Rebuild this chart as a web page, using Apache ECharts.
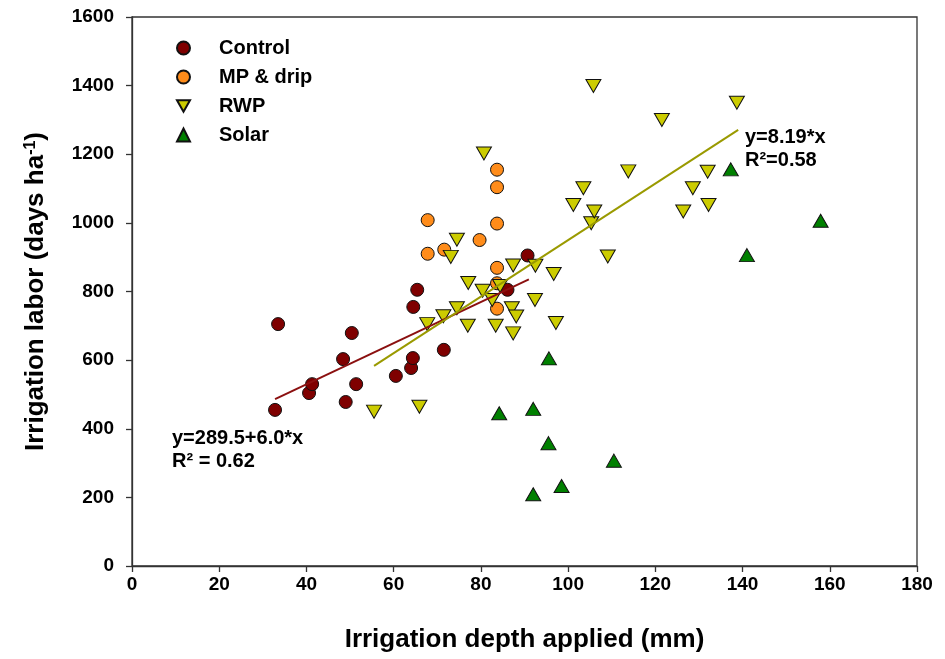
<!DOCTYPE html>
<html>
<head>
<meta charset="utf-8">
<script src="https://cdn.jsdelivr.net/npm/echarts@6/dist/echarts.min.js"></script>
<style>html,body{margin:0;padding:0;background:#fff}#c{width:945px;height:659px}</style>
</head>
<body>
<div id="c"></div>
<script>
// ---- data ----
const controlX = [33.5, 32.8, 40.6, 41.3, 48.4, 49.0, 50.4, 51.4, 60.5, 64.0, 64.4, 64.5, 65.4, 71.5, 86.1, 90.7];
const controlY = [705, 455, 504, 530, 603, 478, 679, 530, 554, 577, 606, 755, 805, 630, 805, 905];

const mpX = [67.8, 67.8, 71.6, 79.7, 83.7, 83.7, 83.7, 83.7, 83.7, 83.7];
const mpY = [1008, 910, 922, 950, 1155, 1104, 998, 869, 824, 750];

const rwpX = [55.5, 65.9, 67.7, 71.4, 73.1, 74.5, 74.5, 77.1, 77.0, 80.7, 80.4, 82.6, 83.4, 84.4, 87.4, 87.1, 88.1, 87.4,
              92.5, 92.4, 96.7, 97.2, 101.2, 103.5, 105.3, 106.0, 105.8, 109.1, 113.8, 121.5, 126.4, 128.6, 132.0, 132.2, 138.7];
const rwpY = [450, 464, 705, 728, 901, 951, 751, 825, 700, 1202, 802, 775, 700, 816, 876, 751, 727, 678,
              875, 775, 851, 708, 1052, 1101, 999, 1033, 1399, 902, 1150, 1300, 1033, 1101, 1149, 1052, 1350];

const solarX = [84.2, 92.0, 92.0, 95.6, 95.5, 98.5, 110.5, 137.3, 141.0, 157.9];
const solarY = [445, 458, 209, 605, 358, 233, 307, 1156, 906, 1006];

// regression lines (as drawn)
const controlFitX = [32.8, 91.0];
const controlFitIntercept = 289.5, controlFitSlope = 6.0;
const rwpFitX = [55.5, 139.0];
const rwpFitY = [583, 1271];

const xTicks = [0, 20, 40, 60, 80, 100, 120, 140, 160, 180];
const yTicks = [0, 200, 400, 600, 800, 1000, 1200, 1400, 1600];

const seriesNames = ['Control', 'MP & drip', 'RWP', 'Solar'];
const eqControl = ['y=289.5+6.0*x', 'R² = 0.62'];
const eqRwp = ['y=8.19*x', 'R²=0.58'];

// ---- build ----
const zip = (xs, ys) => xs.map((x, i) => [x, ys[i]]);
const downTri = 'path://M0,0L2,0L1,1.732Z';
const FONT = '"Liberation Sans", Arial, sans-serif';

const chart = echarts.init(document.getElementById('c'), null, {renderer: 'canvas'});
const mk = c => ({color: c, borderColor: '#111', borderWidth: 1, opacity: 1});

chart.setOption({
  animation: false,
  backgroundColor: '#fff',
  textStyle: {fontFamily: FONT},
  grid: {left: 132, right: 28, top: 17, bottom: 93, show: true, borderColor: '#333', borderWidth: 1.3},
  xAxis: {
    type: 'value', min: xTicks[0], max: xTicks[xTicks.length - 1], interval: 20,
    axisLine: {show: true, lineStyle: {color: '#333', width: 1.3}},
    axisTick: {show: true, inside: false, length: 6, lineStyle: {color: '#333', width: 1.3}},
    splitLine: {show: false},
    axisLabel: {color: '#000', fontWeight: 'bold', fontSize: 19, margin: 9, fontFamily: FONT, formatter: v => String(v)},
    name: 'Irrigation depth applied (mm)', nameLocation: 'middle', nameGap: 61,
    nameTextStyle: {color: '#000', fontWeight: 'bold', fontSize: 26, fontFamily: FONT}
  },
  yAxis: {
    type: 'value', min: yTicks[0], max: yTicks[yTicks.length - 1], interval: 200,
    axisLine: {show: true, lineStyle: {color: '#333', width: 1.3}},
    axisTick: {show: true, inside: false, length: 6, lineStyle: {color: '#333', width: 1.3}},
    splitLine: {show: false},
    axisLabel: {color: '#000', fontWeight: 'bold', fontSize: 19, margin: 18, fontFamily: FONT, formatter: v => String(v)},
    name: 'Irrigation labor (days ha{sup|-1})', nameLocation: 'middle', nameGap: 83, nameRotate: 90,
    nameTextStyle: {color: '#000', fontWeight: 'bold', fontSize: 26, fontFamily: FONT,
      rich: {sup: {fontSize: 16, fontWeight: 'bold', verticalAlign: 'top', padding: [0, 0, 10, 0], color: '#000', fontFamily: FONT}}}
  },
  legend: {
    orient: 'vertical', left: 171, top: 33, itemGap: 9, itemWidth: 13, itemHeight: 13,
    data: seriesNames,
    textStyle: {color: '#000', fontWeight: 'bold', fontSize: 20, fontFamily: FONT, padding: [0, 0, 0, 24]}
  },
  series: [
    {name: seriesNames[0], type: 'scatter', symbol: 'circle', symbolSize: 13, z: 2,
     itemStyle: mk('#7f0000'), data: zip(controlX, controlY)},
    {name: seriesNames[1], type: 'scatter', symbol: 'circle', symbolSize: 13, z: 3,
     itemStyle: mk('#ff8c1a'), data: zip(mpX, mpY)},
    {name: seriesNames[2], type: 'scatter', symbol: downTri, symbolSize: [15, 13], z: 4,
     itemStyle: mk('#cccc00'), data: zip(rwpX, rwpY)},
    {name: seriesNames[3], type: 'scatter', symbol: 'triangle', symbolSize: [15, 13], z: 5,
     itemStyle: mk('#008000'), data: zip(solarX, solarY)},
    {name: 'controlFit', type: 'line', showSymbol: false, symbol: 'none', z: 6, silent: true,
     lineStyle: {color: '#8b1010', width: 2},
     data: controlFitX.map(x => [x, controlFitIntercept + controlFitSlope * x])},
    {name: 'rwpFit', type: 'line', showSymbol: false, symbol: 'none', z: 6, silent: true,
     lineStyle: {color: '#9a9a00', width: 2},
     data: zip(rwpFitX, rwpFitY)}
  ],
  graphic: [
    {type: 'text', style: {x: 172, y: 438, text: eqControl[0], fill: '#000', font: 'bold 20px ' + FONT, verticalAlign: 'middle'}},
    {type: 'text', style: {x: 172, y: 461, text: eqControl[1], fill: '#000', font: 'bold 20px ' + FONT, verticalAlign: 'middle'}},
    {type: 'text', style: {x: 745, y: 137, text: eqRwp[0], fill: '#000', font: 'bold 20px ' + FONT, verticalAlign: 'middle'}},
    {type: 'text', style: {x: 745, y: 160, text: eqRwp[1], fill: '#000', font: 'bold 20px ' + FONT, verticalAlign: 'middle'}}
  ]
});
</script>
</body>
</html>
